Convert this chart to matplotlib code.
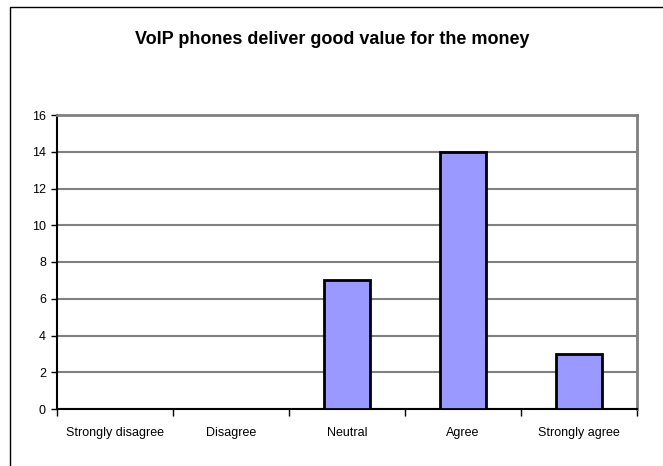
import matplotlib
matplotlib.use("Agg")
import matplotlib.pyplot as plt
from matplotlib.patches import Rectangle

categories = ["Strongly disagree", "Disagree", "Neutral", "Agree", "Strongly agree"]
counts = [0, 0, 7, 14, 3]
y_ticks = [0, 2, 4, 6, 8, 10, 12, 14, 16]

plt.rcParams["font.family"] = ["Liberation Sans", "DejaVu Sans"]

W, H = 663, 466
fig = plt.figure(figsize=(W / 100, H / 100), dpi=100)

# chart frame, open at the right and bottom
fig.add_artist(Rectangle((10 / W, -0.1), 1.2, 1.1 - 7 / H, transform=fig.transFigure,
                         fill=False, edgecolor="black", linewidth=1.0))

ax = fig.add_axes([57 / W, 1 - 409 / H, (637 - 57) / W, (409 - 115) / H])

x = range(len(categories))
ax.bar(x, counts, width=0.4, color="#9999FF", edgecolor="black", linewidth=2.0, zorder=3)

ax.set_xlim(-0.5, len(categories) - 0.5)
ax.set_ylim(0, 16)
ax.set_yticks(y_ticks)
ax.set_yticklabels([str(v) for v in y_ticks], fontsize=9)
ax.set_xticks(x)
ax.set_xticklabels(categories, fontsize=9)
ax.tick_params(axis="x", length=0, pad=13)
ax.tick_params(axis="y", length=4, width=1, pad=4, direction="out")

# category separators on the x axis
ax.set_xticks([i + 0.5 for i in range(-1, len(categories))], minor=True)
ax.tick_params(axis="x", which="minor", length=5, width=1, direction="out")

ax.yaxis.grid(True, color="#808080", linewidth=1.5, zorder=0)
ax.set_axisbelow(True)

for side in ("top", "right"):
    ax.spines[side].set_color("#808080")
    ax.spines[side].set_linewidth(2)
for side in ("left", "bottom"):
    ax.spines[side].set_color("black")
    ax.spines[side].set_linewidth(1.5)

fig.text(332 / W, 1 - 40 / H, "VoIP phones deliver good value for the money",
         ha="center", va="center", fontsize=13, fontweight="bold")

fig.savefig("out.png", dpi=100)
